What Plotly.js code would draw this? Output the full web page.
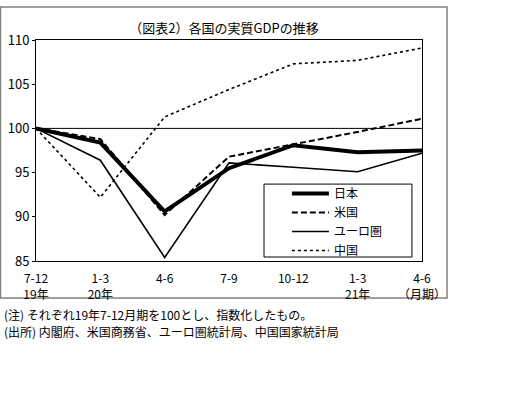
<!DOCTYPE html>
<html><head><meta charset="utf-8">
<script src="https://cdn.plot.ly/plotly-3.0.1.min.js"></script>
<style>html,body{margin:0;padding:0;background:#fff;}#c{width:515px;height:398px;}</style>
</head><body><div id="c"></div>
<script>
const tickLabels = ["7-12<br>19年","1-3<br>20年","4-6","7-9","10-12","1-3<br>21年","4-6<br>（月期）"];
const japan = [100, 98.4, 90.6, 95.5, 98.1, 97.3, 97.5];
const us    = [100, 98.8, 90.2, 96.8, 98.2, 99.6, 101.1];
const euro  = [100, 96.4, 85.4, 96.1, 95.6, 95.1, 97.2];
const china = [100, 92.2, 101.3, 104.4, 107.3, 107.7, 109.1];
const names = ["日本","米国","ユーロ圏","中国"];
const xs = tickLabels.map((_, i) => i);
const F = '"Noto Sans CJK JP", "Noto Sans", sans-serif';

const traces = [
  {x: xs, y: japan, name: names[0], mode: 'lines', line: {color: '#000', width: 4}},
  {x: xs, y: us, name: names[1], mode: 'lines', line: {color: '#000', width: 2, dash: '6px,3px'}},
  {x: xs, y: euro, name: names[2], mode: 'lines', line: {color: '#000', width: 1.6}},
  {x: xs, y: china, name: names[3], mode: 'lines', line: {color: '#000', width: 1.6, dash: 'dot'}}
];

const layout = {
  width: 515, height: 398,
  margin: {l: 36, r: 93, t: 40, b: 137},
  paper_bgcolor: '#fff', plot_bgcolor: '#fff',
  font: {family: F, size: 12, color: '#000'},
  title: {text: '（図表2）各国の実質GDPの推移', font: {family: F, size: 13, color: '#000'},
          x: 0.487, xref: 'paper', xanchor: 'center', y: 0.928, yref: 'container', yanchor: 'middle'},
  showlegend: true,
  legend: {x: 0.650, y: 0.371, xanchor: 'left', yanchor: 'top', bgcolor: 'rgba(0,0,0,0)',
           borderwidth: 0, font: {family: F, size: 12},
           tracegroupgap: 0, itemwidth: 37},
  xaxis: {range: [0, 6], tickvals: xs, ticktext: tickLabels, showgrid: false, zeroline: false,
          showline: true, linecolor: '#000', linewidth: 1, mirror: true, ticks: '',
          ticklabelstandoff: 7,
          tickfont: {family: F, size: 12}, fixedrange: true},
  yaxis: {range: [85, 110], tickvals: [85, 90, 95, 100, 105, 110], showgrid: false, zeroline: false,
          showline: true, linecolor: '#000', linewidth: 1, mirror: true, ticks: 'outside', ticklen: 3,
          tickcolor: '#000', tickfont: {family: F, size: 13}, fixedrange: true},
  shapes: [
    {type: 'line', xref: 'paper', x0: 0, x1: 1, yref: 'y', y0: 100, y1: 100, line: {color: '#000', width: 1}},
    {type: 'rect', xref: 'paper', yref: 'paper', x0: -0.092, x1: 1.0648, y0: -0.167, y1: 1.149,
     line: {color: '#808080', width: 1.5}, fillcolor: 'rgba(0,0,0,0)', layer: 'below'},
    {type: 'rect', xref: 'paper', yref: 'paper', x0: 0.5907, x1: 0.974, y0: 0.018, y1: 0.348,
     line: {color: '#000', width: 1}, fillcolor: '#fff', layer: 'above'}
  ],
  annotations: [
    {xref: 'paper', yref: 'paper', x: -0.088, y: -0.244, xanchor: 'left', yanchor: 'middle', showarrow: false,
     text: '(注) それぞれ19年7-12月期を100とし、指数化したもの。', font: {family: F, size: 12}},
    {xref: 'paper', yref: 'paper', x: -0.088, y: -0.321, xanchor: 'left', yanchor: 'middle', showarrow: false,
     text: '(出所) 内閣府、米国商務省、ユーロ圏統計局、中国国家統計局', font: {family: F, size: 12}}
  ]
};
Plotly.newPlot('c', traces, layout, {displayModeBar: false, staticPlot: true});
</script></body></html>
